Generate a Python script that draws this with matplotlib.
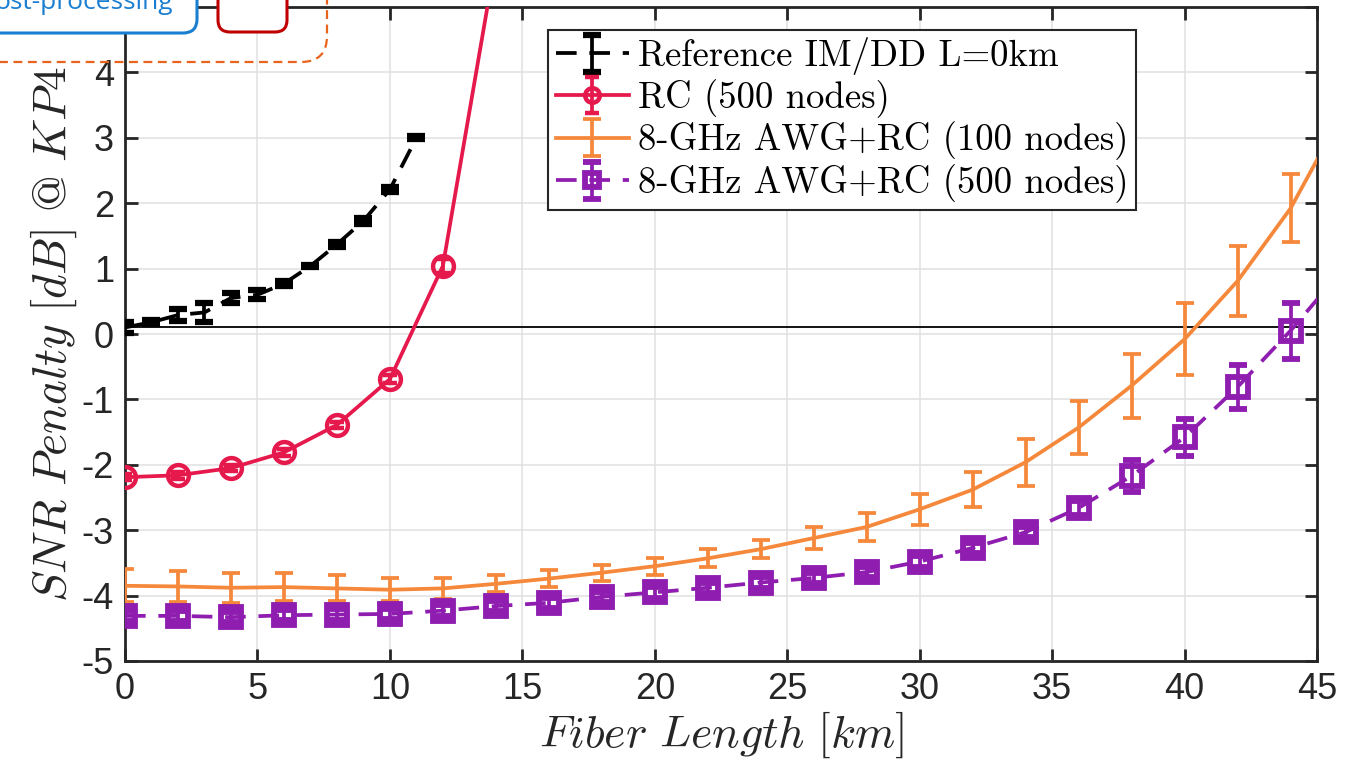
import numpy as np
import matplotlib
matplotlib.use("Agg")
import matplotlib.pyplot as plt
from matplotlib.patches import FancyBboxPatch
from matplotlib.transforms import IdentityTransform

plt.rcParams['mathtext.fontset'] = 'cm'
plt.rcParams['axes.unicode_minus'] = False

# ---------------- data ----------------
ref_x = [0, 1, 2, 3, 4, 5, 6, 7, 8, 9, 10, 11]
ref_y = [0.10, 0.18, 0.29, 0.33, 0.55, 0.60, 0.77, 1.04, 1.37, 1.73, 2.21, 3.00]
ref_err = [0.08, 0.03, 0.09, 0.14, 0.07, 0.07, 0.04, 0.02, 0.04, 0.05, 0.04, 0.02]

rc_x = [0, 2, 4, 6, 8, 10, 12, 14]
rc_y = [-2.19, -2.16, -2.05, -1.81, -1.39, -0.69, 1.04, 5.75]
rc_err = [0.05, 0.05, 0.05, 0.05, 0.05, 0.06, 0.10, 0.10]

awg_x = list(range(0, 48, 2))
awg100_y = [-3.85, -3.86, -3.88, -3.87, -3.89, -3.91, -3.89, -3.82, -3.74, -3.65,
            -3.55, -3.43, -3.29, -3.12, -2.95, -2.68, -2.38, -1.96, -1.43, -0.79,
            -0.08, 0.81, 1.92, 3.40]
awg100_err = [0.25, 0.24, 0.23, 0.22, 0.20, 0.18, 0.16, 0.13, 0.13, 0.12,
              0.13, 0.14, 0.14, 0.17, 0.21, 0.24, 0.27, 0.36, 0.41, 0.49,
              0.55, 0.53, 0.52, 0.55]
awg500_y = [-4.31, -4.31, -4.33, -4.30, -4.29, -4.28, -4.23, -4.16, -4.11, -4.02,
            -3.95, -3.88, -3.80, -3.73, -3.64, -3.48, -3.27, -3.03, -2.66, -2.17,
            -1.58, -0.81, 0.05, 1.00]
awg500_err = [0.08, 0.08, 0.08, 0.08, 0.08, 0.08, 0.08, 0.08, 0.08, 0.08,
              0.08, 0.08, 0.08, 0.08, 0.08, 0.08, 0.08, 0.08, 0.10, 0.24,
              0.28, 0.34, 0.43, 0.45]

labels = ['Reference IM/DD L=0km', 'RC (500 nodes)',
          '8-GHz AWG+RC (100 nodes)', '8-GHz AWG+RC (500 nodes)']
xticks = list(range(0, 50, 5))
yticks = list(range(-5, 6))
ytick_labels = [str(v) for v in range(-5, 5)] + ['']

# ---------------- figure ----------------
W, H = 1365, 777
fig = plt.figure(figsize=(W / 100, H / 100), dpi=100)
ax = fig.add_axes([125 / W, 1 - 661 / H, (1317 - 125) / W, (661 - 7) / H])

c_red = '#E5194C'
c_org = '#F5883A'
c_pur = '#8E1DB0'
lw = 2.7
dash = (5.5, 3.4)

ax.axhline(ref_y[0], color='black', lw=1.3, zorder=2)

h1 = ax.errorbar(ref_x, ref_y, yerr=ref_err, color='black', lw=lw, ls='--',
                 dashes=dash, capsize=6.5, capthick=4.5, elinewidth=lw, zorder=3)
h2 = ax.errorbar(rc_x, rc_y, yerr=rc_err, color=c_red, lw=lw, marker='o', ms=15,
                 mfc='none', mew=3.2, capsize=5, capthick=lw, elinewidth=lw, zorder=3)
h3 = ax.errorbar(awg_x, awg100_y, yerr=awg100_err, color=c_org, lw=lw,
                 capsize=6.5, capthick=lw, elinewidth=lw, zorder=3)
h4 = ax.errorbar(awg_x, awg500_y, yerr=awg500_err, color=c_pur, lw=lw, ls='--',
                 dashes=dash, marker='s', ms=15, mfc='none', mew=4.2,
                 capsize=6.5, capthick=lw, elinewidth=lw, zorder=3)

ax.set_xlim(0, 45)
ax.set_ylim(-5, 5)
ax.set_xticks(xticks)
ax.set_yticks(yticks)
ax.set_yticklabels(ytick_labels)
ax.grid(True, color='#e0e0e0', lw=1.1)
ax.set_axisbelow(True)
for s in ax.spines.values():
    s.set_color('#262626')
    s.set_linewidth(2)
ax.tick_params(direction='in', length=9, width=2, top=True, right=True,
               colors='#262626', labelsize=26, pad=8)
for lab in ax.get_xticklabels() + ax.get_yticklabels():
    lab.set_family('Liberation Sans')

ax.set_xlabel(r'$Fiber\ Length\ [km]$', fontsize=33, color='#262626', labelpad=2)
ax.set_ylabel(r'$SNR\ Penalty\ [dB]\ @\ KP4$', fontsize=34, color='#262626', labelpad=2)

leg = ax.legend([h1, h2, h3, h4], labels, loc='upper left',
                bbox_to_anchor=(0.355, 0.965), borderaxespad=0,
                prop={'family': 'cmr10', 'size': 26.5}, handlelength=2.0,
                handletextpad=0.25, labelspacing=0.1, borderpad=0.2,
                markerscale=0.7,
                fancybox=False, framealpha=1, edgecolor='#262626')
leg.get_frame().set_linewidth(1.5)

# ---------------- top-left overlay fragments ----------------
idt = IdentityTransform()
fig.patches.append(FancyBboxPatch((-40, H - 33), 237, 80,
                                  boxstyle='round,pad=0,rounding_size=14',
                                  transform=idt, fc='white', ec='#1A7FD0', lw=2.2,
                                  zorder=5))
fig.patches.append(FancyBboxPatch((218, H - 32), 69, 80,
                                  boxstyle='round,pad=0,rounding_size=12',
                                  transform=idt, fc='white', ec='#C00000', lw=2.2,
                                  zorder=5))
fig.patches.append(FancyBboxPatch((-40, H - 62), 367, 120,
                                  boxstyle='round,pad=0,rounding_size=26',
                                  transform=idt, fc='none', ec='#E8641C', lw=1.6,
                                  ls=(0, (4, 2.5)), zorder=6))
fig.text(173 / W, 1 - 9 / H, 'ost-processing', ha='right', va='baseline',
         fontsize=19, color='#1A7FD0', family='Open Sans', zorder=7)

fig.savefig('out.png', dpi=100)
